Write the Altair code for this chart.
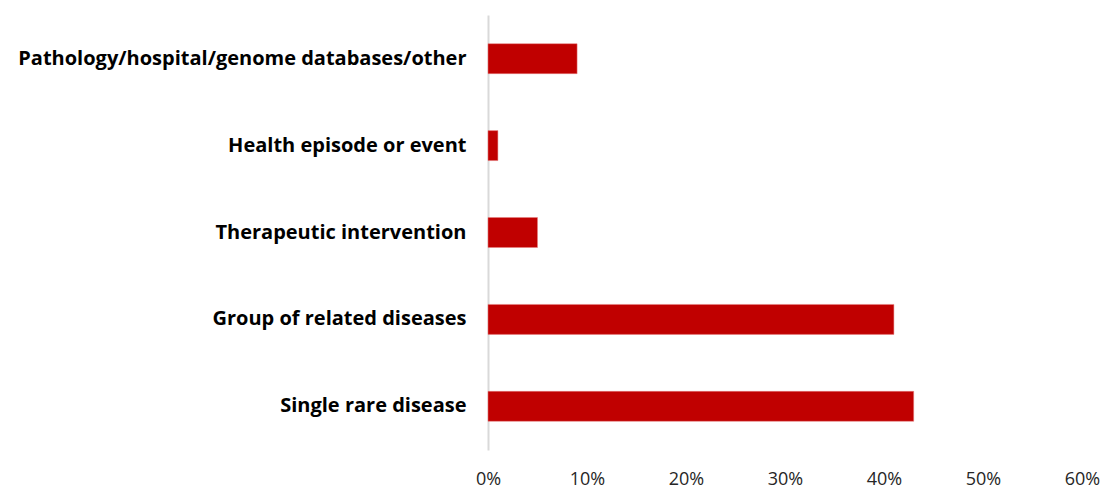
import altair as alt
import pandas as pd

categories = [
    "Pathology/hospital/genome databases/other",
    "Health episode or event",
    "Therapeutic intervention",
    "Group of related diseases",
    "Single rare disease",
]
values = [0.09, 0.01, 0.05, 0.41, 0.43]
tick_values = [0, 0.1, 0.2, 0.3, 0.4, 0.5, 0.6]

df = pd.DataFrame({"category": categories, "value": values})

chart = (
    alt.Chart(df)
    .mark_bar(color="#C00000", stroke="#E88080", strokeWidth=0.5)
    .encode(
        y=alt.Y(
            "category:N",
            sort=categories,
            title=None,
            scale=alt.Scale(paddingInner=0.655, paddingOuter=0.33),
            axis=alt.Axis(
                domain=True,
                domainColor="#D9D9D9",
                domainWidth=2,
                ticks=False,
                labelFont="Open Sans",
                labelFontWeight="bold",
                labelFontSize=20,
                labelColor="#000000",
                labelPadding=22,
                labelLimit=600,
                grid=False,
            ),
        ),
        x=alt.X(
            "value:Q",
            title=None,
            scale=alt.Scale(domain=[0, 0.6], nice=False),
            axis=alt.Axis(
                values=tick_values,
                format=".0%",
                domain=False,
                ticks=False,
                grid=False,
                labelFont="Open Sans",
                labelFontSize=18,
                labelColor="#262626",
                labelPadding=20,
                labelFlush=False,
            ),
        ),
    )
    .properties(
        width=594,
        height=435,
        background="#FFFFFF",
        autosize=alt.AutoSizeParams(type="none"),
        padding={"left": 488, "top": 15, "right": 21, "bottom": 40},
    )
    .configure_view(strokeWidth=0, stroke="transparent")
)

chart.save("out.html", embed_options={"renderer": "svg", "actions": False})
